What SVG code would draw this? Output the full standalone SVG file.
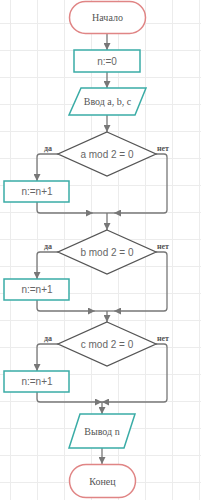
<svg xmlns="http://www.w3.org/2000/svg" width="201" height="500" viewBox="0 0 201 500">
<defs>
<pattern id="grid" patternUnits="userSpaceOnUse" x="10" y="23" width="27" height="27">
<path d="M0 0.5 H27 M0.5 0 V27" fill="none" stroke="#ececec" stroke-width="1"/>
</pattern>
<marker id="arr" markerUnits="userSpaceOnUse" markerWidth="7" markerHeight="7" viewBox="0 0 7 7" refX="7" refY="3.5" orient="auto">
<path d="M0 0 L7 3.5 L0 7 Z" fill="#777"/>
</marker>
</defs>
<style>
.term{fill:#fff;stroke:#e08585;stroke-width:1.5}
.proc{fill:#fff;stroke:#3aaca6;stroke-width:1.5}
.dec{fill:#fff;stroke:#555;stroke-width:1.3}
.con{fill:none;stroke:#777;stroke-width:1.3}
.serif{font-family:"Liberation Serif","Times New Roman",serif;font-size:10px;fill:#555;text-anchor:middle}
.sans{font-family:"Liberation Sans",Arial,sans-serif;font-size:10px;fill:#666;text-anchor:middle}
.lbl{font-family:"Liberation Serif","Times New Roman",serif;font-size:8px;font-weight:bold;fill:#555;text-anchor:middle}
</style>
<rect width="201" height="500" fill="#fff"/>
<rect width="201" height="500" fill="url(#grid)"/>
<g id="connectors">
<path class="con" d="M107 33.5 V50" marker-end="url(#arr)"/>
<path class="con" d="M107 72 V88" marker-end="url(#arr)"/>
<path class="con" d="M107 115 V132" marker-end="url(#arr)"/>
<path class="con" d="M58 154 H40 Q37 154 37 157 V181" marker-end="url(#arr)"/>
<path class="con" d="M37 202 V210 Q37 213 40 213 H93" marker-end="url(#arr)"/>
<path class="con" d="M93 213 H114"/>
<path class="con" d="M156 154 H164 Q167 154 167 157 V210 Q167 213 164 213 H114" marker-end="url(#arr)"/>
<path class="con" d="M107 213 V230" marker-end="url(#arr)"/>
<path class="con" d="M58 252 H40 Q37 252 37 255 V279" marker-end="url(#arr)"/>
<path class="con" d="M37 300 V308 Q37 311 40 311 H95" marker-end="url(#arr)"/>
<path class="con" d="M95 311 H114"/>
<path class="con" d="M156 252 H164 Q167 252 167 255 V308 Q167 311 164 311 H114" marker-end="url(#arr)"/>
<path class="con" d="M107 311 V322" marker-end="url(#arr)"/>
<path class="con" d="M58 344 H40 Q37 344 37 347 V371" marker-end="url(#arr)"/>
<path class="con" d="M37 392 V399 Q37 402 40 402 H102" marker-end="url(#arr)"/>
<path class="con" d="M156 344 H164 Q167 344 167 347 V399 Q167 402 164 402 H102" marker-end="url(#arr)"/>
<path class="con" d="M102 402 V414" marker-end="url(#arr)"/>
<path class="con" d="M102 448 V464" marker-end="url(#arr)"/>
<text class="lbl" x="48" y="151">да</text>
<text class="lbl" x="163" y="151">нет</text>
<text class="lbl" x="48" y="249">да</text>
<text class="lbl" x="163" y="249">нет</text>
<text class="lbl" x="48" y="341">да</text>
<text class="lbl" x="163" y="341">нет</text>
</g>
<g id="start">
<rect class="term" x="69.5" y="1.5" width="76" height="32" rx="16"/>
<text class="serif" x="107.5" y="21">Начало</text>
</g>
<g id="init">
<rect class="proc" x="74" y="50" width="66" height="22"/>
<text class="sans" x="107" y="64.5">n:=0</text>
</g>
<g id="input">
<polygon class="proc" points="81,88 146,88 135,115 69,115"/>
<text class="serif" x="107.5" y="105">Ввод a, b, c</text>
</g>
<g id="dec1">
<polygon class="dec" points="107,132 156,154 107,176 58,154"/>
<text class="sans" x="107" y="157.5">a mod 2 = 0</text>
</g>
<g id="inc1">
<rect class="proc" x="4" y="181" width="65" height="21"/>
<text class="sans" x="37" y="195">n:=n+1</text>
</g>
<g id="dec2">
<polygon class="dec" points="107,230 156,252 107,274 58,252"/>
<text class="sans" x="107" y="255.5">b mod 2 = 0</text>
</g>
<g id="inc2">
<rect class="proc" x="4" y="279" width="65" height="21"/>
<text class="sans" x="37" y="293">n:=n+1</text>
</g>
<g id="dec3">
<polygon class="dec" points="107,322 156,344 107,366 58,344"/>
<text class="sans" x="107" y="347.5">c mod 2 = 0</text>
</g>
<g id="inc3">
<rect class="proc" x="4" y="371" width="65" height="21"/>
<text class="sans" x="37" y="385">n:=n+1</text>
</g>
<g id="output">
<polygon class="proc" points="80,414 135,414 124,448 69,448"/>
<text class="serif" x="102" y="434.5">Вывод n</text>
</g>
<g id="end">
<rect class="term" x="69.5" y="464.5" width="66" height="33" rx="16.5"/>
<text class="serif" x="102.5" y="484.5">Конец</text>
</g>
</svg>
